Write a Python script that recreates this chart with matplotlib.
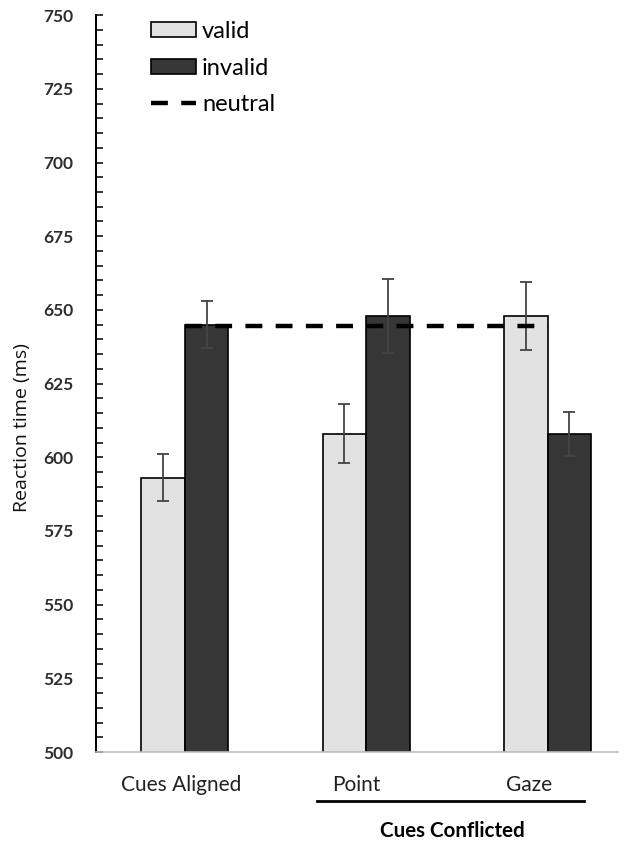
import matplotlib
matplotlib.use("Agg")
import matplotlib.pyplot as plt
from matplotlib.ticker import MultipleLocator
from matplotlib.lines import Line2D
from matplotlib.patches import Patch
import numpy as np

categories = ["Cues Aligned", "Point", "Gaze"]
valid = [593, 608, 648]
valid_err = [8, 10, 11.5]
invalid = [645, 648, 608]
invalid_err = [8, 12.5, 7.5]
neutral = 644.5
group_label = "Cues Conflicted"

plt.rcParams['font.family'] = ['Lato', 'DejaVu Sans']

fig = plt.figure(figsize=(6.44, 8.44), dpi=100)
ax = fig.add_axes([0.149, 0.109, 0.811, 0.873])

x = np.arange(len(categories))
w = 0.24
ecol = "#444444"
ax.bar(x - w/2, valid, w, color="#e2e2e2", edgecolor="black", linewidth=1.2,
       yerr=valid_err, error_kw=dict(ecolor=ecol, capsize=4, elinewidth=1.3, capthick=1.3), zorder=2)
ax.bar(x + w/2, invalid, w, color="#363636", edgecolor="black", linewidth=1.2,
       yerr=invalid_err, error_kw=dict(ecolor=ecol, capsize=4, elinewidth=1.3, capthick=1.3), zorder=2)
dash = (0, (3.8, 3.0))
ax.plot([x[0], x[2]], [neutral, neutral], color="black", lw=3.2, ls=dash, zorder=3)

ax.set_ylim(500, 750)
ax.set_xlim(-0.49, 2.39)
ax.yaxis.set_major_locator(MultipleLocator(25))
ax.yaxis.set_minor_locator(MultipleLocator(5))
ax.tick_params(axis='y', which='both', direction='in', length=5, width=1.1, labelsize=12.5, pad=16)
for lab in ax.get_yticklabels():
    lab.set_color("#2e2e2e")
    lab.set_fontweight("bold")
ax.set_xticks([])
ax.spines['top'].set_visible(False)
ax.spines['right'].set_visible(False)
ax.spines['left'].set_linewidth(1.4)
ax.spines['bottom'].set_color("#bbbbbb")
ax.spines['bottom'].set_linewidth(1.2)
ax.set_ylabel("Reaction time (ms)", fontsize=14, labelpad=6, family=['Open Sans', 'DejaVu Sans'],
              color="#111111")
ax.yaxis.set_label_coords(-0.125, 0.44)

# category labels
label_shift = [-0.02, -0.055, -0.1]
for xi, c, s in zip(x, categories, label_shift):
    ax.text(xi + s, -0.045, c, transform=ax.get_xaxis_transform(), ha='center', va='center',
            fontsize=15, color="#222222")
ax.plot([x[1] - 0.27, x[2] + 0.2], [-0.066, -0.066], transform=ax.get_xaxis_transform(),
        color="black", lw=2, clip_on=False)
ax.text(1.475, -0.107, group_label, transform=ax.get_xaxis_transform(),
        ha='center', va='center', fontsize=14.8, fontweight='bold')

handles = [Patch(facecolor="#e2e2e2", edgecolor="black", linewidth=1.2, label="valid"),
           Patch(facecolor="#363636", edgecolor="black", linewidth=1.2, label="invalid"),
           Line2D([0], [0], color="black", lw=3.2, ls=dash, label="neutral")]
ax.legend(handles=handles, loc='upper left', bbox_to_anchor=(0.065, 1.021), frameon=False,
          fontsize=17, handlelength=1.9, handleheight=0.6, labelspacing=0.66, handletextpad=0.25)

fig.savefig("out.png", dpi=100)
